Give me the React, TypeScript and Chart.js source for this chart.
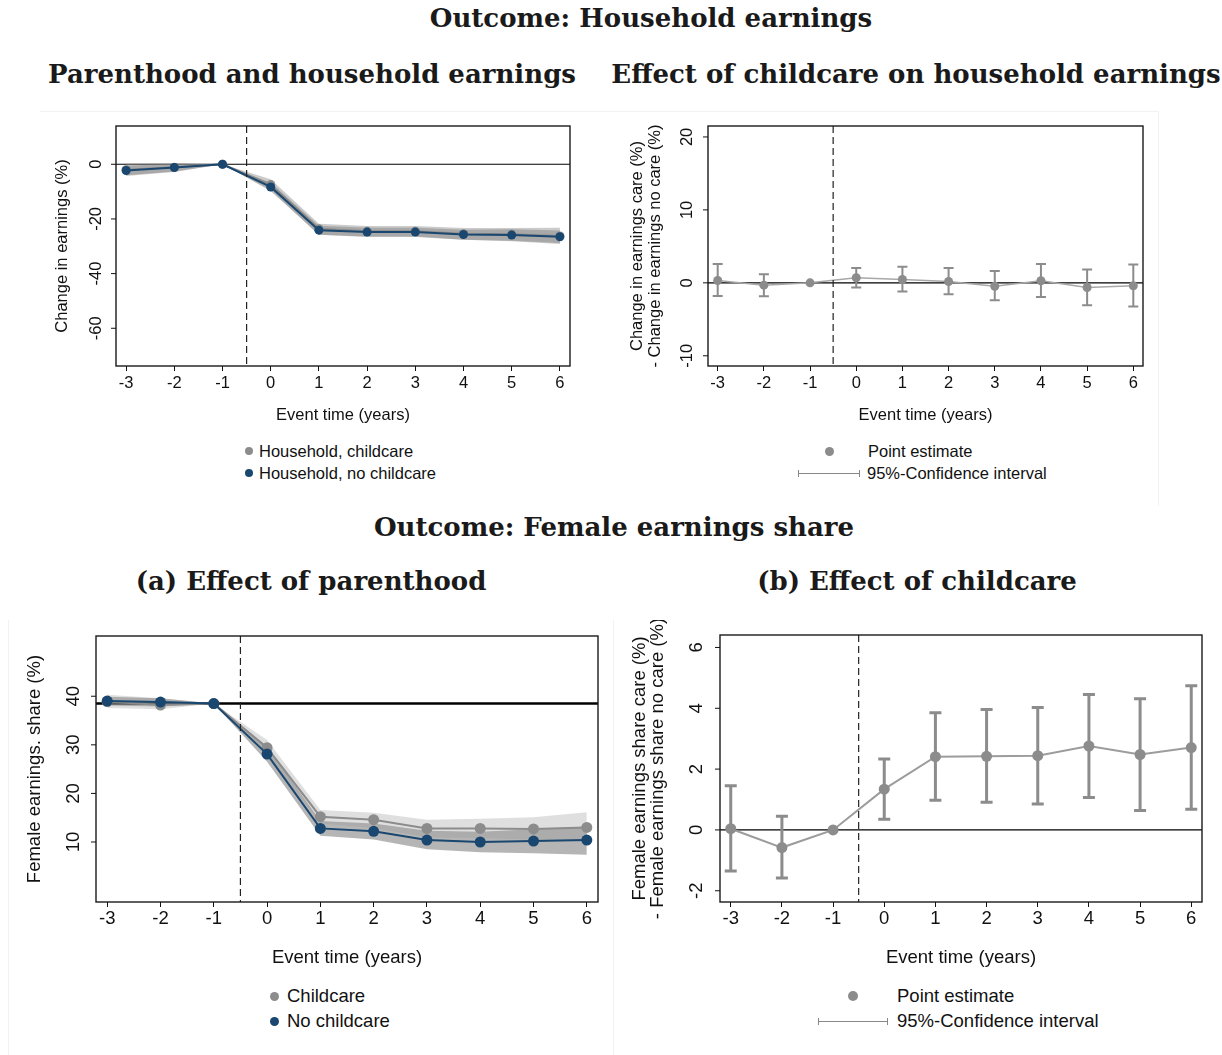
import React, { useEffect, useRef } from "react";
import { Chart, registerables } from "chart.js";

Chart.register(...registerables);

// Event time relative to the birth of the first child (years)
const eventTime = [-3, -2, -1, 0, 1, 2, 3, 4, 5, 6];

// Household earnings, % change relative to t = -1
const hhChildcare = [-2.0, -1.1, 0, -7.4, -23.6, -24.5, -24.5, -25.4, -25.6, -26.2];
const hhChildcareLo = [-4.3, -2.8, 0, -9.3, -25.8, -26.6, -26.6, -27.6, -28.2, -29.2];
const hhChildcareHi = [0.3, 0.5, 0, -5.5, -21.8, -22.6, -22.6, -23.3, -23.3, -23.2];
const hhNoChildcare = [-2.3, -1.2, 0, -8.3, -24.1, -24.8, -24.8, -25.7, -25.9, -26.5];
const hhNoChildcareLo = [-4.0, -2.6, 0, -9.8, -25.8, -26.4, -26.4, -27.6, -28.0, -28.8];
const hhNoChildcareHi = [-0.5, 0.2, 0, -6.8, -22.5, -23.2, -23.2, -24.0, -23.8, -24.2];

// Difference care - no care in household earnings change
const hhDiff = [0.32, -0.32, 0, 0.69, 0.46, 0.18, -0.46, 0.28, -0.64, -0.41];
const hhDiffLo = [-1.79, -1.83, null, -0.64, -1.19, -1.56, -2.39, -1.93, -3.07, -3.26];
const hhDiffHi = [2.57, 1.19, null, 2.02, 2.2, 2.02, 1.61, 2.57, 1.83, 2.52];

// Female share of household earnings (%)
const shareChildcare = [38.9, 38.2, 38.5, 29.4, 15.2, 14.6, 12.8, 12.8, 12.7, 13.0];
const shareChildcareLo = [37.6, 37.3, 38.5, 27.9, 13.8, 12.9, 11.0, 10.8, 10.5, 10.1];
const shareChildcareHi = [40.3, 39.6, 38.5, 31.0, 16.6, 16.0, 14.6, 14.8, 15.1, 16.1];
const shareNoChildcare = [39.0, 38.8, 38.5, 28.1, 12.8, 12.2, 10.4, 10.0, 10.2, 10.4];
const shareNoChildcareLo = [38.1, 37.9, 38.5, 26.5, 11.3, 10.5, 8.5, 7.9, 7.7, 7.4];
const shareNoChildcareHi = [39.9, 39.6, 38.5, 29.7, 14.3, 13.8, 12.3, 12.1, 12.6, 13.2];
const shareBaseline = 38.5;

// Difference care - no care in female earnings share
const shareDiff = [0.04, -0.58, 0, 1.34, 2.41, 2.42, 2.44, 2.76, 2.48, 2.71];
const shareDiffLo = [-1.35, -1.58, null, 0.35, 0.98, 0.91, 0.85, 1.07, 0.64, 0.68];
const shareDiffHi = [1.45, 0.45, null, 2.33, 3.85, 3.96, 4.03, 4.45, 4.31, 4.74];

// Axis tick values
const yTicksHousehold = [-60, -40, -20, 0];
const yTicksHouseholdDiff = [-10, 0, 10, 20];
const yTicksShare = [10, 20, 30, 40];
const yTicksShareDiff = [-2, 0, 2, 4, 6];

const NAVY = "#1a476f";
const GRAY = "#8c8c8c";
const SANS = "'Liberation Sans', Arial, Helvetica, sans-serif";
const SERIF = "'DejaVu Serif', serif";
const INK = "#111";

const pts = (ys: (number | null)[]) => eventTime.map((x, i) => ({ x, y: ys[i] }));

function series(ys: number[], color: string, radius: number, width: number, order: number) {
  return {
    data: pts(ys),
    borderColor: color,
    backgroundColor: color,
    borderWidth: width,
    pointRadius: radius,
    pointBackgroundColor: color,
    pointBorderWidth: 0,
    fill: false,
    order,
  };
}

function band(lo: number[], hi: number[], color: string, order: number) {
  return [
    { data: pts(hi), borderWidth: 0, pointRadius: 0, fill: false, order },
    { data: pts(lo), borderWidth: 0, pointRadius: 0, fill: "-1", backgroundColor: color, order },
  ];
}

type Box = { x: number; y: number; w: number; h: number };
type Frame = { l: number; t: number; r: number; b: number };
type Bars = { lo: (number | null)[]; hi: (number | null)[]; color: string; width: number; cap: number };

type PanelProps = {
  box: Box;
  frame: Frame;
  yRange: [number, number];
  yTicks: number[];
  font: number;
  xTickY: number;
  xTitleY: number;
  yTickX: number;
  yTitleX: number;
  yTitle: string[];
  refY: number;
  refWidth: number;
  datasets: any[];
  bars?: Bars;
};

const X_MIN = -3.21;
const X_MAX = 6.21;
const SPLIT_X = -0.5;

function makeDecor(p: PanelProps) {
  return {
    id: "decor",
    beforeDatasetsDraw(chart: any) {
      const { ctx, chartArea: a, scales } = chart;
      const yr = scales.y.getPixelForValue(p.refY);
      ctx.save();
      ctx.strokeStyle = "#000";
      ctx.lineWidth = p.refWidth;
      ctx.beginPath();
      ctx.moveTo(a.left, yr);
      ctx.lineTo(a.right, yr);
      ctx.stroke();
      ctx.restore();
    },
    afterDatasetsDraw(chart: any) {
      const { ctx, chartArea: a, scales } = chart;
      const { x, y } = scales;
      ctx.save();
      if (p.bars) {
        const b = p.bars;
        ctx.strokeStyle = b.color;
        ctx.lineWidth = b.width;
        eventTime.forEach((ev, i) => {
          const lo = b.lo[i];
          const hi = b.hi[i];
          if (lo === null || hi === null) return;
          const px = x.getPixelForValue(ev);
          const y1 = y.getPixelForValue(lo);
          const y2 = y.getPixelForValue(hi);
          ctx.beginPath();
          ctx.moveTo(px, y1);
          ctx.lineTo(px, y2);
          ctx.moveTo(px - b.cap, y1);
          ctx.lineTo(px + b.cap, y1);
          ctx.moveTo(px - b.cap, y2);
          ctx.lineTo(px + b.cap, y2);
          ctx.stroke();
        });
      }
      // event-time split line
      const xd = x.getPixelForValue(SPLIT_X);
      ctx.strokeStyle = "#222";
      ctx.lineWidth = 1.2;
      ctx.setLineDash([7, 4]);
      ctx.beginPath();
      ctx.moveTo(xd, a.top);
      ctx.lineTo(xd, a.bottom);
      ctx.stroke();
      ctx.setLineDash([]);
      // plot region frame
      ctx.strokeStyle = "#1a1a1a";
      ctx.lineWidth = 1.4;
      ctx.strokeRect(a.left, a.top, a.right - a.left, a.bottom - a.top);
      ctx.restore();
    },
    afterDraw(chart: any) {
      const { ctx, chartArea: a, scales } = chart;
      const y = scales.y;
      const ox = p.box.x;
      ctx.save();
      ctx.fillStyle = INK;
      ctx.strokeStyle = INK;
      ctx.lineWidth = 1;
      ctx.font = `${p.font}px ${SANS}`;
      ctx.textAlign = "center";
      ctx.textBaseline = "middle";
      y.ticks.forEach((t: any) => {
        const py = y.getPixelForValue(t.value);
        ctx.beginPath();
        ctx.moveTo(a.left - 5, py);
        ctx.lineTo(a.left, py);
        ctx.stroke();
        ctx.save();
        ctx.translate(p.yTickX - ox, py);
        ctx.rotate(-Math.PI / 2);
        ctx.fillText(String(t.value), 0, 0);
        ctx.restore();
      });
      const cy = (a.top + a.bottom) / 2;
      const n = p.yTitle.length;
      p.yTitle.forEach((line, i) => {
        ctx.save();
        ctx.translate(p.yTitleX - ox + (i - (n - 1) / 2) * 18, cy);
        ctx.rotate(-Math.PI / 2);
        ctx.fillText(line, 0, 0);
        ctx.restore();
      });
      ctx.restore();
    },
  };
}

function Panel(p: PanelProps) {
  const ref = useRef<HTMLCanvasElement>(null);
  useEffect(() => {
    const lh = p.font * 1.2;
    const yAxisW = 40;
    const tickLen = 5;
    const xAxisH = p.xTitleY + lh / 2 - p.frame.b;
    const tickPad = p.xTickY - p.frame.b - tickLen - lh / 2;
    const chart = new Chart(ref.current as HTMLCanvasElement, {
      type: "line",
      data: { datasets: p.datasets },
      options: {
        animation: false,
        responsive: false,
        devicePixelRatio: 1,
        layout: {
          padding: {
            left: p.frame.l - p.box.x - yAxisW,
            top: p.frame.t - p.box.y,
            right: p.box.x + p.box.w - p.frame.r,
            bottom: p.box.y + p.box.h - p.frame.b - xAxisH,
          },
        },
        plugins: { legend: { display: false }, tooltip: { enabled: false } },
        scales: {
          x: {
            type: "linear",
            min: X_MIN,
            max: X_MAX,
            afterBuildTicks: (s: any) => {
              s.ticks = eventTime.map((v) => ({ value: v }));
            },
            afterFit: (s: any) => {
              s.height = xAxisH;
            },
            ticks: {
              font: { family: SANS, size: p.font },
              color: INK,
              padding: tickPad,
              autoSkip: false,
              maxRotation: 0,
              minRotation: 0,
              includeBounds: false,
            },
            grid: {
              display: true,
              drawOnChartArea: false,
              drawTicks: true,
              tickLength: tickLen,
              color: INK,
              lineWidth: 1,
            },
            border: { display: false },
            title: {
              display: true,
              text: "Event time (years)",
              font: { family: SANS, size: p.font },
              color: INK,
              padding: 0,
            },
          },
          y: {
            type: "linear",
            min: p.yRange[0],
            max: p.yRange[1],
            afterBuildTicks: (s: any) => {
              s.ticks = p.yTicks.map((v) => ({ value: v }));
            },
            afterFit: (s: any) => {
              s.width = yAxisW;
            },
            ticks: { display: false },
            grid: { display: false },
            border: { display: false },
          },
        },
      } as any,
      plugins: [makeDecor(p)],
    });
    return () => chart.destroy();
  }, []);
  return (
    <canvas
      ref={ref}
      width={p.box.w}
      height={p.box.h}
      style={{ position: "absolute", left: p.box.x, top: p.box.y, width: p.box.w, height: p.box.h }}
    />
  );
}

function Title({ text, x, y, size }: { text: string; x: number; y: number; size: number }) {
  return (
    <div
      style={{
        position: "absolute",
        left: x,
        top: y,
        transform: "translate(-50%, -50%)",
        whiteSpace: "nowrap",
        fontFamily: SERIF,
        fontWeight: "bold",
        fontSize: size,
        lineHeight: 1,
        color: "#1a1a1a",
      }}
    >
      {text}
    </div>
  );
}

function Dot({ x, y, color, d }: { x: number; y: number; color: string; d: number }) {
  return (
    <div
      style={{
        position: "absolute",
        left: x - d / 2,
        top: y - d / 2,
        width: d,
        height: d,
        borderRadius: "50%",
        background: color,
      }}
    />
  );
}

function CiKey({ x1, x2, y }: { x1: number; x2: number; y: number }) {
  return (
    <div style={{ position: "absolute", left: x1, top: y - 3, width: x2 - x1, height: 6 }}>
      <div style={{ position: "absolute", left: 0, top: 3, width: "100%", height: 1, background: "#888" }} />
      <div style={{ position: "absolute", left: 0, top: 0, width: 1, height: 7, background: "#888" }} />
      <div style={{ position: "absolute", right: 0, top: 0, width: 1, height: 7, background: "#888" }} />
    </div>
  );
}

function Label({ text, x, y, size }: { text: string; x: number; y: number; size: number }) {
  return (
    <div
      style={{
        position: "absolute",
        left: x,
        top: y,
        transform: "translateY(-50%)",
        whiteSpace: "nowrap",
        fontFamily: SANS,
        fontSize: size,
        lineHeight: 1,
        color: INK,
      }}
    >
      {text}
    </div>
  );
}

function Rule({ x, y, w, h }: { x: number; y: number; w: number; h: number }) {
  return <div style={{ position: "absolute", left: x, top: y, width: w, height: h, background: "#f2f2f2" }} />;
}

export default function App() {
  const topFont = 16.5;
  const botFont = 18.5;
  const titleFont = 26;

  const hhDatasets = [
    series(hhNoChildcare, NAVY, 4.5, 2, 0),
    series(hhChildcare, GRAY, 4.5, 2, 1),
    ...band(hhChildcareLo, hhChildcareHi, "rgba(140,140,140,0.45)", 2),
    ...band(hhNoChildcareLo, hhNoChildcareHi, "rgba(130,130,130,0.5)", 3),
  ];
  const hhDiffDatasets = [series(hhDiff, GRAY, 4.5, 1.5, 0)];
  hhDiffDatasets[0].borderColor = "#a8a8a8";

  const shareDatasets = [
    series(shareNoChildcare, NAVY, 5.5, 2, 0),
    series(shareChildcare, GRAY, 5.5, 2, 1),
    ...band(shareChildcareLo, shareChildcareHi, "rgba(150,150,150,0.3)", 2),
    ...band(shareNoChildcareLo, shareNoChildcareHi, "rgba(120,120,120,0.55)", 3),
  ];
  const shareDiffDatasets = [series(shareDiff, GRAY, 5.5, 2, 0)];
  shareDiffDatasets[0].borderColor = "#9c9c9c";

  return (
    <div
      style={{
        position: "absolute",
        left: 0,
        top: 0,
        width: 1222,
        height: 1055,
        background: "#fff",
        overflow: "hidden",
      }}
    >
      <Rule x={40} y={111} w={1118} h={1} />
      <Rule x={1158} y={111} w={1} h={395} />
      <Rule x={8} y={620} w={1} h={435} />
      <Rule x={613} y={620} w={1} h={435} />

      <Title text="Outcome: Household earnings" x={651} y={18} size={titleFont} />
      <Title text="Parenthood and household earnings" x={312} y={74} size={titleFont} />
      <Title text="Effect of childcare on household earnings" x={916} y={74} size={titleFont} />
      <Title text="Outcome: Female earnings share" x={614} y={527} size={titleFont} />
      <Title text="(a) Effect of parenthood" x={311} y={581} size={titleFont} />
      <Title text="(b) Effect of childcare" x={917} y={581} size={titleFont} />

      <Panel
        box={{ x: 20, y: 110, w: 580, h: 330 }}
        frame={{ l: 116, t: 126, r: 570, b: 366 }}
        yRange={[-73.8, 14]}
        yTicks={yTicksHousehold}
        font={topFont}
        xTickY={383}
        xTitleY={415}
        yTickX={96}
        yTitleX={62}
        yTitle={["Change in earnings (%)"]}
        refY={0}
        refWidth={1.2}
        datasets={hhDatasets}
      />
      <Panel
        box={{ x: 610, y: 110, w: 545, h: 330 }}
        frame={{ l: 708, t: 126, r: 1143, b: 366 }}
        yRange={[-11.4, 21.5]}
        yTicks={yTicksHouseholdDiff}
        font={topFont}
        xTickY={383}
        xTitleY={415}
        yTickX={687}
        yTitleX={646}
        yTitle={["Change in earnings care (%)", "- Change in earnings no care (%)"]}
        refY={0}
        refWidth={1.2}
        datasets={hhDiffDatasets}
        bars={{ lo: hhDiffLo, hi: hhDiffHi, color: GRAY, width: 2, cap: 5 }}
      />
      <Panel
        box={{ x: 10, y: 620, w: 600, h: 360 }}
        frame={{ l: 96, t: 636, r: 598, b: 902 }}
        yRange={[-2.35, 52.4]}
        yTicks={yTicksShare}
        font={botFont}
        xTickY={919}
        xTitleY={958}
        yTickX={74}
        yTitleX={35}
        yTitle={["Female earnings. share (%)"]}
        refY={shareBaseline}
        refWidth={2.5}
        datasets={shareDatasets}
      />
      <Panel
        box={{ x: 615, y: 620, w: 600, h: 360 }}
        frame={{ l: 720, t: 635, r: 1202, b: 902 }}
        yRange={[-2.37, 6.41]}
        yTicks={yTicksShareDiff}
        font={botFont}
        xTickY={919}
        xTitleY={958}
        yTickX={697}
        yTitleX={649}
        yTitle={["Female earnings share care (%)", "- Female earnings share no care (%)"]}
        refY={0}
        refWidth={1.2}
        datasets={shareDiffDatasets}
        bars={{ lo: shareDiffLo, hi: shareDiffHi, color: GRAY, width: 3, cap: 6 }}
      />

      <Dot x={249} y={451} color={GRAY} d={8} />
      <Label text="Household, childcare" x={259} y={451} size={topFont} />
      <Dot x={249} y={473} color={NAVY} d={8} />
      <Label text="Household, no childcare" x={259} y={473} size={topFont} />

      <Dot x={829} y={451} color={GRAY} d={9} />
      <Label text="Point estimate" x={868} y={451} size={topFont} />
      <CiKey x1={798} x2={860} y={473} />
      <Label text="95%-Confidence interval" x={867} y={473} size={topFont} />

      <Dot x={274} y={996} color={GRAY} d={9} />
      <Label text="Childcare" x={287} y={996} size={botFont} />
      <Dot x={274} y={1021} color={NAVY} d={9} />
      <Label text="No childcare" x={287} y={1021} size={botFont} />

      <Dot x={853} y={996} color={GRAY} d={10} />
      <Label text="Point estimate" x={897} y={996} size={botFont} />
      <CiKey x1={818} x2={888} y={1021} />
      <Label text="95%-Confidence interval" x={897} y={1021} size={botFont} />
    </div>
  );
}
